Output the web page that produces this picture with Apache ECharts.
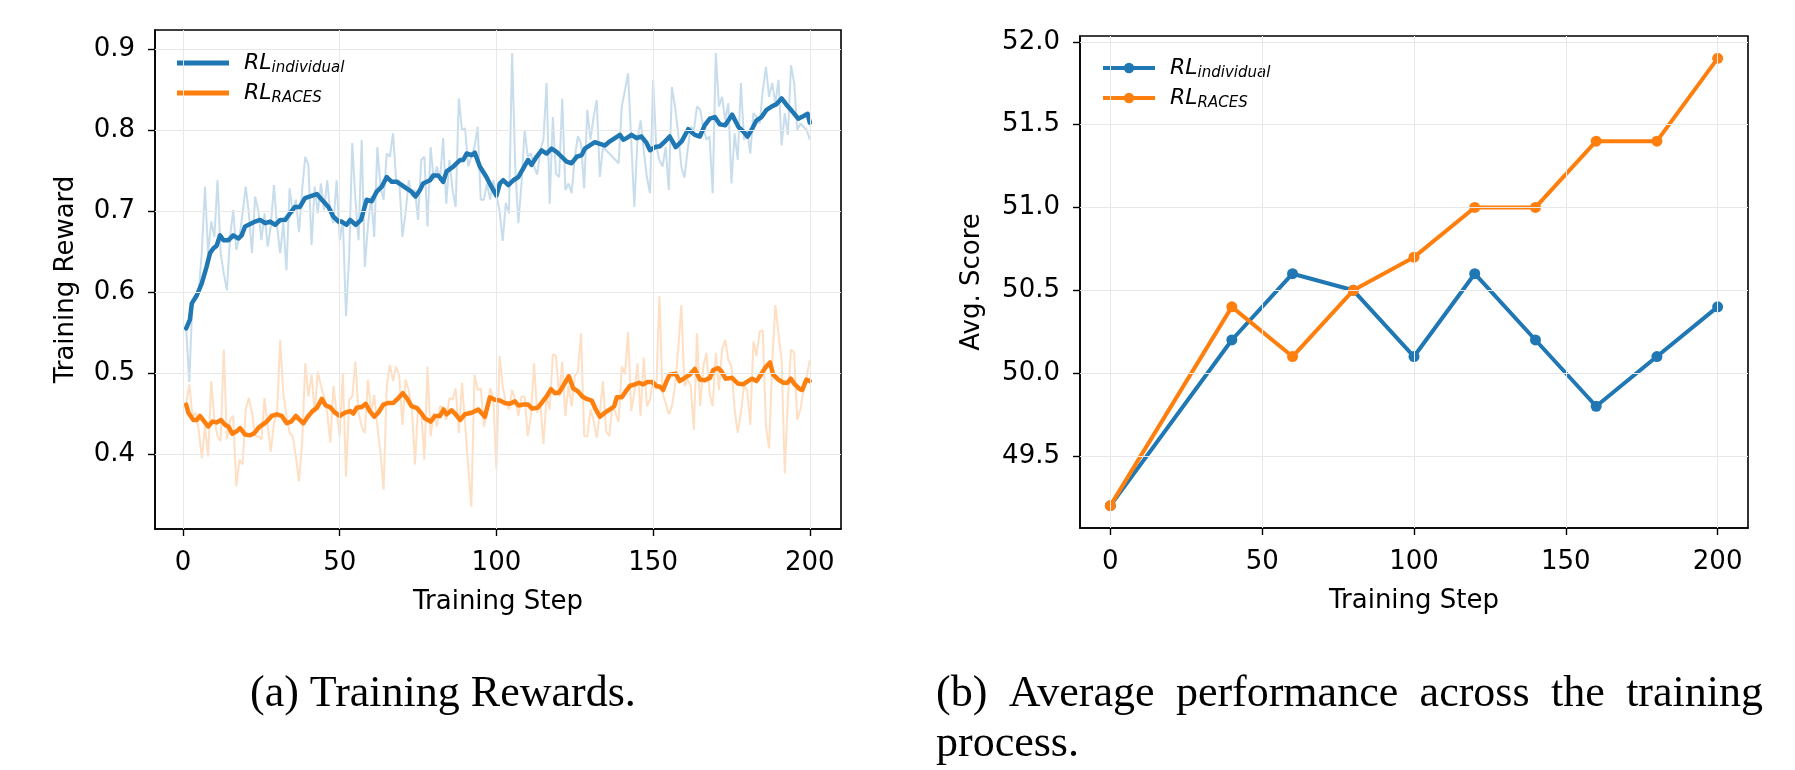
<!DOCTYPE html>
<html>
<head>
<meta charset="utf-8">
<script src="https://cdn.jsdelivr.net/npm/echarts@6/dist/echarts.min.js"></script>
<style>
  html, body { margin: 0; padding: 0; background: #fff; }
  #chart { width: 1795px; height: 770px; }
</style>
</head>
<body>
<div id="chart"></div>
<script>
// (a) raw training reward per step, steps 1..200
var rewardSteps = []
for (var i = 1; i <= 200; i++) rewardSteps.push(i)

var indRaw = [
  0.555, 0.489, 0.590, 0.594, 0.600, 0.650, 0.730, 0.648, 0.687, 0.668,
  0.738, 0.648, 0.623, 0.602, 0.668, 0.701, 0.652, 0.668, 0.697, 0.730,
  0.697, 0.648, 0.718, 0.701, 0.664, 0.697, 0.656, 0.681, 0.732, 0.681,
  0.648, 0.685, 0.627, 0.728, 0.697, 0.714, 0.674, 0.726, 0.767, 0.757,
  0.658, 0.730, 0.697, 0.734, 0.701, 0.738, 0.697, 0.685, 0.738, 0.664,
  0.689, 0.570, 0.644, 0.784, 0.714, 0.664, 0.788, 0.631, 0.681, 0.718,
  0.668, 0.779, 0.730, 0.714, 0.771, 0.767, 0.796, 0.738, 0.738, 0.668,
  0.697, 0.738, 0.718, 0.726, 0.689, 0.763, 0.767, 0.681, 0.779, 0.738,
  0.755, 0.738, 0.790, 0.709, 0.763, 0.726, 0.705, 0.839, 0.800, 0.802,
  0.755, 0.767, 0.779, 0.804, 0.714, 0.714, 0.734, 0.714, 0.738, 0.720,
  0.700, 0.663, 0.710, 0.697, 0.895, 0.755, 0.685, 0.734, 0.800, 0.767,
  0.771, 0.755, 0.745, 0.775, 0.788, 0.858, 0.709, 0.816, 0.746, 0.742,
  0.839, 0.726, 0.734, 0.722, 0.767, 0.792, 0.783, 0.728, 0.825, 0.788,
  0.816, 0.837, 0.742, 0.779, 0.775, 0.771, 0.767, 0.763, 0.759, 0.829,
  0.849, 0.870, 0.788, 0.705, 0.788, 0.812, 0.775, 0.742, 0.722, 0.862,
  0.780, 0.763, 0.755, 0.779, 0.726, 0.853, 0.829, 0.796, 0.755, 0.741,
  0.775, 0.804, 0.800, 0.829, 0.825, 0.804, 0.788, 0.792, 0.722, 0.895,
  0.829, 0.841, 0.812, 0.833, 0.734, 0.796, 0.763, 0.858, 0.788, 0.800,
  0.771, 0.821, 0.816, 0.808, 0.849, 0.878, 0.841, 0.858, 0.833, 0.862,
  0.781, 0.821, 0.794, 0.880, 0.858, 0.800, 0.808, 0.804, 0.800, 0.788
]

var racesRaw = [
  0.462, 0.486, 0.447, 0.451, 0.430, 0.395, 0.434, 0.397, 0.490, 0.442,
  0.422, 0.416, 0.529, 0.418, 0.442, 0.447, 0.360, 0.393, 0.387, 0.455,
  0.469, 0.451, 0.422, 0.422, 0.418, 0.469, 0.434, 0.403, 0.438, 0.451,
  0.541, 0.475, 0.447, 0.426, 0.422, 0.397, 0.366, 0.414, 0.512, 0.471,
  0.498, 0.451, 0.502, 0.484, 0.471, 0.451, 0.414, 0.484, 0.451, 0.422,
  0.500, 0.372, 0.467, 0.471, 0.514, 0.451, 0.434, 0.426, 0.492, 0.451,
  0.473, 0.434, 0.401, 0.356, 0.484, 0.510, 0.490, 0.508, 0.496, 0.436,
  0.492, 0.479, 0.457, 0.387, 0.459, 0.453, 0.393, 0.508, 0.422, 0.451,
  0.434, 0.459, 0.457, 0.442, 0.469, 0.467, 0.481, 0.426, 0.488, 0.438,
  0.385, 0.335, 0.498, 0.479, 0.481, 0.434, 0.451, 0.481, 0.469, 0.381,
  0.521, 0.484, 0.463, 0.455, 0.479, 0.467, 0.447, 0.471, 0.471, 0.422,
  0.447, 0.512, 0.451, 0.463, 0.412, 0.471, 0.455, 0.523, 0.521, 0.471,
  0.514, 0.447, 0.484, 0.459, 0.496, 0.502, 0.549, 0.422, 0.422, 0.455,
  0.442, 0.420, 0.451, 0.490, 0.428, 0.422, 0.459, 0.451, 0.440, 0.508,
  0.498, 0.551, 0.453, 0.475, 0.512, 0.447, 0.519, 0.459, 0.467, 0.492,
  0.480, 0.595, 0.475, 0.463, 0.449, 0.459, 0.484, 0.529, 0.584, 0.484,
  0.492, 0.484, 0.430, 0.549, 0.459, 0.508, 0.525, 0.475, 0.459, 0.525,
  0.479, 0.529, 0.541, 0.516, 0.508, 0.455, 0.426, 0.451, 0.484, 0.479,
  0.436, 0.539, 0.521, 0.551, 0.553, 0.434, 0.407, 0.512, 0.584, 0.549,
  0.516, 0.376, 0.467, 0.529, 0.525, 0.442, 0.455, 0.479, 0.496, 0.516
]

// smoothed curves (step, value)
var indSmoothSteps = [
  1, 2.2, 2.8, 4.4, 6, 7.5, 8.6, 9.7, 10.7, 11.8, 12.9, 14.5, 16, 17.7, 18.7, 19.8,
  21.4, 23, 24.6, 26.2, 27.8, 29.4, 31, 32.6, 34.1, 35.7, 37.3, 38.9, 40.5, 42.7,
  44.3, 46.4, 48, 49.6, 50.6, 52.2, 53.3, 55.1, 56.8, 58.6, 60.2, 61.8, 63.4, 65,
  66.6, 68.2, 69.8, 71.3, 72.9, 74.2, 75.6, 76.6, 78.8, 79.8, 81.4, 83, 84.1, 86.3,
  88.4, 89.4, 90.5, 92.1, 93.1, 94.7, 96.8, 98.4, 100, 101.1, 102.2, 103.8, 105.4,
  107, 108.6, 110.1, 111.2, 112.8, 114.4, 116, 117.6, 119.2, 120.8, 122.4, 124,
  125.6, 127.2, 128.2, 129.8, 131.4, 133, 134.6, 136.2, 137.8, 139.4, 140.5, 141.5,
  143.1, 144.7, 146.3, 147.9, 149, 150.6, 152.2, 153.8, 155.3, 157.2, 159.1, 161.2,
  163.3, 164.9, 166.5, 168.1, 169.7, 171.3, 173, 175.2, 177.2, 178.8, 180.1, 181.4,
  183, 184.6, 186.2, 187.8, 189.4, 191, 192.6, 194.2, 196.3, 197.9, 199.3, 200
]
var indSmoothVals = [
  0.555, 0.566, 0.586, 0.596, 0.611, 0.631, 0.648, 0.654, 0.657, 0.670, 0.664, 0.664, 0.670, 0.666, 0.670, 0.681,
  0.684, 0.687, 0.689, 0.685, 0.687, 0.683, 0.689, 0.689, 0.697, 0.705, 0.705, 0.716, 0.718, 0.721,
  0.714, 0.705, 0.693, 0.687, 0.687, 0.683, 0.689, 0.683, 0.689, 0.714, 0.712, 0.724, 0.730, 0.742,
  0.736, 0.736, 0.732, 0.728, 0.724, 0.718, 0.726, 0.734, 0.738, 0.744, 0.744, 0.736, 0.749, 0.755,
  0.763, 0.763, 0.771, 0.769, 0.772, 0.755, 0.742, 0.730, 0.719, 0.734, 0.738, 0.732, 0.738,
  0.742, 0.753, 0.763, 0.757, 0.767, 0.775, 0.771, 0.777, 0.773, 0.767, 0.761, 0.759,
  0.767, 0.769, 0.777, 0.781, 0.785, 0.783, 0.781, 0.786, 0.790, 0.794, 0.788, 0.790,
  0.794, 0.790, 0.792, 0.784, 0.775, 0.779, 0.780, 0.786, 0.792, 0.779, 0.786, 0.801,
  0.794, 0.792, 0.806, 0.814, 0.816, 0.807, 0.806, 0.819, 0.804, 0.798, 0.792, 0.800,
  0.812, 0.816, 0.825, 0.829, 0.832, 0.839, 0.831, 0.824, 0.814, 0.817, 0.820, 0.809
]

var racesSmoothSteps = [
  1, 1.7, 3.3, 4.4, 5.4, 6.8, 8, 9.4, 10.7, 12.1, 13.4, 14.5, 15.7, 17.1, 18.2, 19.8,
  21.4, 22.8, 24, 25.3, 26.7, 28.3, 29.9, 31.5, 33.1, 34.5, 36, 37, 38.4, 39.8, 41.3,
  42.7, 44.3, 45.5, 46.9, 48.5, 50, 51.7, 53.3, 54.3, 55.4, 57, 58.3, 59.6, 61, 62.3,
  63.9, 65.5, 67.1, 68.7, 70.1, 71.4, 72.9, 74.5, 75.9, 77.2, 79, 80.4, 82, 83.1, 84.1,
  85.7, 87, 88.4, 89.9, 92.1, 94.2, 96.3, 97.9, 99.5, 101.1, 102.7, 104.3, 105.9, 107,
  108.6, 110.1, 111.4, 113.1, 114.4, 116, 117.4, 118.7, 120, 121.3, 123.1, 124.5, 126.1,
  127.4, 128.8, 130.4, 131.7, 133, 134.6, 136.2, 137.6, 138.4, 140, 141.2, 142.6, 144.2,
  145.5, 146.8, 148.2, 149.7, 151, 152.2, 153.2, 154.3, 155.3, 157.2, 158.5, 160.1, 161.7,
  163.3, 164.9, 166.5, 168.1, 169.2, 170.8, 171.8, 173.1, 175.2, 177, 178.7, 180.3, 181.6,
  183, 184.4, 185.9, 187.3, 188.3, 189.9, 191.5, 192.9, 193.9, 195.2, 196.8, 197.6, 198.9, 200
]
var racesSmoothVals = [
  0.461, 0.451, 0.442, 0.442, 0.447, 0.440, 0.434, 0.440, 0.439, 0.442, 0.436, 0.434, 0.425, 0.428, 0.432, 0.424,
  0.423, 0.426, 0.432, 0.436, 0.440, 0.447, 0.449, 0.447, 0.438, 0.440, 0.447, 0.443, 0.438, 0.446, 0.453,
  0.457, 0.468, 0.460, 0.458, 0.451, 0.447, 0.451, 0.453, 0.450, 0.457, 0.458, 0.462, 0.453, 0.446, 0.451,
  0.461, 0.463, 0.463, 0.469, 0.475, 0.469, 0.459, 0.457, 0.451, 0.444, 0.440, 0.447, 0.447, 0.455, 0.449,
  0.454, 0.449, 0.442, 0.449, 0.451, 0.455, 0.446, 0.470, 0.467, 0.466, 0.463, 0.462, 0.465, 0.460,
  0.461, 0.461, 0.456, 0.457, 0.463, 0.471, 0.480, 0.475, 0.476, 0.484, 0.496, 0.481, 0.477,
  0.471, 0.468, 0.466, 0.455, 0.446, 0.451, 0.455, 0.459, 0.470, 0.470, 0.477, 0.484, 0.486,
  0.488, 0.486, 0.489, 0.489, 0.484, 0.483, 0.479, 0.490, 0.498, 0.499, 0.490, 0.494, 0.498,
  0.505, 0.492, 0.491, 0.494, 0.504, 0.506, 0.502, 0.493, 0.494, 0.487, 0.486, 0.490, 0.493,
  0.490, 0.498, 0.507, 0.513, 0.498, 0.492, 0.488, 0.488, 0.493, 0.486, 0.480, 0.479, 0.492, 0.490
]

// (b) average score at evaluation checkpoints
var evalSteps = [0, 40, 60, 80, 100, 120, 140, 160, 180, 200]
var indScore = [49.2, 50.2, 50.6, 50.5, 50.1, 50.6, 50.2, 49.8, 50.1, 50.4]
var racesScore = [49.2, 50.4, 50.1, 50.5, 50.7, 51.0, 51.0, 51.4, 51.4, 51.9]

// tick labels
var stepTicks = [0, 50, 100, 150, 200]
var rewardTicks = [0.4, 0.5, 0.6, 0.7, 0.8, 0.9]
var scoreTicks = [49.5, 50.0, 50.5, 51.0, 51.5, 52.0]

var BLUE = '#1f77b4'
var ORANGE = '#ff7f0e'
var FONT = '"DejaVu Sans", sans-serif'
var SERIF = '"Liberation Serif", "Times New Roman", serif'

function zip(xs, ys) {
  var out = []
  for (var k = 0; k < xs.length; k++) out.push([xs[k], ys[k]])
  return out
}

// axis in matplotlib look
function makeXAxis(grid, min, max) {
  return {
    type: 'value', gridIndex: grid, min: min, max: max,
    name: 'Training Step', nameLocation: 'middle', nameGap: 60,
    nameTextStyle: { fontFamily: FONT, fontSize: 26, color: '#000' },
    axisLine: { show: true, onZero: false, lineStyle: { color: '#000', width: 1.6 } },
    axisTick: { show: true, length: 7, customValues: stepTicks, lineStyle: { color: '#000', width: 1.4 } },
    axisLabel: { customValues: stepTicks, margin: 21, fontFamily: FONT, fontSize: 26, color: '#000' },
    splitLine: { show: false }
  }
}
function makeYAxis(grid, min, max, ticks, name, gap) {
  return {
    type: 'value', gridIndex: grid, min: min, max: max,
    name: name, nameLocation: 'middle', nameGap: gap,
    nameTextStyle: { fontFamily: FONT, fontSize: 26, color: '#000' },
    axisLine: { show: true, onZero: false, lineStyle: { color: '#000', width: 1.6 } },
    axisTick: { show: true, length: 7, customValues: ticks, lineStyle: { color: '#000', width: 1.4 } },
    axisLabel: {
      customValues: ticks, margin: 20, fontFamily: FONT, fontSize: 26, color: '#000',
      formatter: function(v) { return v.toFixed(1) }
    },
    splitLine: { show: false }
  }
}

// light grid lines at the tick positions
function gridLines(grid, yTicks) {
  var lines = []
  stepTicks.forEach(function(t) { lines.push({ xAxis: t }) })
  yTicks.forEach(function(t) { lines.push({ yAxis: t }) })
  return {
    type: 'line', xAxisIndex: grid, yAxisIndex: grid, data: [], z: 0, silent: true,
    markLine: {
      silent: true, symbol: ['none', 'none'], label: { show: false },
      lineStyle: { color: '#e8e8e8', width: 1, type: 'solid' },
      emphasis: { disabled: true },
      data: lines
    }
  }
}

var legendRich = {
  m: { fontFamily: FONT, fontStyle: 'italic', fontSize: 22, color: '#000', lineHeight: 26, verticalAlign: 'middle', padding: [0, 0, 0, 10] },
  s: { fontFamily: FONT, fontStyle: 'italic', fontSize: 15, color: '#000', lineHeight: 14, verticalAlign: 'bottom' }
}
function legendName(name) {
  return name.indexOf('ind') === 0 ? '{m|RL}{s|individual}' : '{m|RL}{s|RACES}'
}

// caption (b) is justified like in the paper
var captionFont = '44px ' + SERIF
var ctx = document.createElement('canvas').getContext('2d')
ctx.font = captionFont
var capWords = ['(b)', 'Average', 'performance', 'across', 'the', 'training']
var capLeft = 936
var capRight = 1763
var wordsWidth = 0
capWords.forEach(function(w) { wordsWidth += ctx.measureText(w).width })
var gapW = (capRight - capLeft - wordsWidth) / (capWords.length - 1)
var captionTexts = []
var cx = capLeft
capWords.forEach(function(w) {
  captionTexts.push({
    type: 'text', left: cx, top: 672,
    style: { text: w, font: captionFont, fill: '#000' }
  })
  cx += ctx.measureText(w).width + gapW
})
captionTexts.push({
  type: 'text', left: capLeft, top: 722,
  style: { text: 'process.', font: captionFont, fill: '#000' }
})
captionTexts.push({
  type: 'text', left: 250, top: 672,
  style: { text: '(a) Training Rewards.', font: captionFont, fill: '#000' }
})

var chart = echarts.init(document.getElementById('chart'), null, { renderer: 'canvas' })
var option = {
  animation: false,
  backgroundColor: '#fff',
  grid: [
    { left: 155, top: 30, width: 686, height: 499, show: true, borderColor: '#000', borderWidth: 1.6, backgroundColor: 'transparent' },
    { left: 1080, top: 36, width: 668, height: 492, show: true, borderColor: '#000', borderWidth: 1.6, backgroundColor: 'transparent' }
  ],
  xAxis: [
    makeXAxis(0, -8.95, 209.95),
    makeXAxis(1, -10, 210)
  ],
  yAxis: [
    makeYAxis(0, 0.3074, 0.9235, rewardTicks, 'Training Reward', 76),
    makeYAxis(1, 49.065, 52.035, scoreTicks, 'Avg. Score', 95)
  ],
  legend: [
    {
      // plain thick bar as handle, like a line without markers
      data: ['ind_a', 'races_a'], orient: 'vertical', left: 172, top: 47,
      icon: 'rect', itemWidth: 52, itemHeight: 5, itemGap: 6, formatter: legendName,
      textStyle: { rich: legendRich }, selectedMode: false
    },
    {
      data: ['ind_b', 'races_b'], orient: 'vertical', left: 1096, top: 52,
      itemWidth: 52, itemHeight: 13, itemGap: 6, formatter: legendName,
      lineStyle: { width: 4 },
      textStyle: { rich: legendRich }, selectedMode: false
    }
  ],
  graphic: captionTexts,
  series: [
    gridLines(0, rewardTicks),
    gridLines(1, scoreTicks),
    {
      name: 'ind_raw', type: 'line', xAxisIndex: 0, yAxisIndex: 0, symbol: 'none', z: 2,
      data: zip(rewardSteps, indRaw), lineStyle: { color: BLUE, width: 2, opacity: 0.25 }
    },
    {
      name: 'ind_a', type: 'line', xAxisIndex: 0, yAxisIndex: 0, symbol: 'none', z: 3,
      data: zip(indSmoothSteps, indSmoothVals), color: BLUE,
      lineStyle: { color: BLUE, width: 4.5, join: 'round', cap: 'round' }
    },
    {
      name: 'races_raw', type: 'line', xAxisIndex: 0, yAxisIndex: 0, symbol: 'none', z: 2,
      data: zip(rewardSteps, racesRaw), lineStyle: { color: ORANGE, width: 2, opacity: 0.25 }
    },
    {
      name: 'races_a', type: 'line', xAxisIndex: 0, yAxisIndex: 0, symbol: 'none', z: 3,
      data: zip(racesSmoothSteps, racesSmoothVals), color: ORANGE,
      lineStyle: { color: ORANGE, width: 4.5, join: 'round', cap: 'round' }
    },
    {
      name: 'ind_b', type: 'line', xAxisIndex: 1, yAxisIndex: 1, z: 3,
      symbol: 'circle', symbolSize: 11, color: BLUE,
      data: zip(evalSteps, indScore), lineStyle: { color: BLUE, width: 4 }
    },
    {
      name: 'races_b', type: 'line', xAxisIndex: 1, yAxisIndex: 1, z: 4,
      symbol: 'circle', symbolSize: 11, color: ORANGE,
      data: zip(evalSteps, racesScore), lineStyle: { color: ORANGE, width: 4 }
    }
  ]
}
chart.setOption(option)
</script>
</body>
</html>
